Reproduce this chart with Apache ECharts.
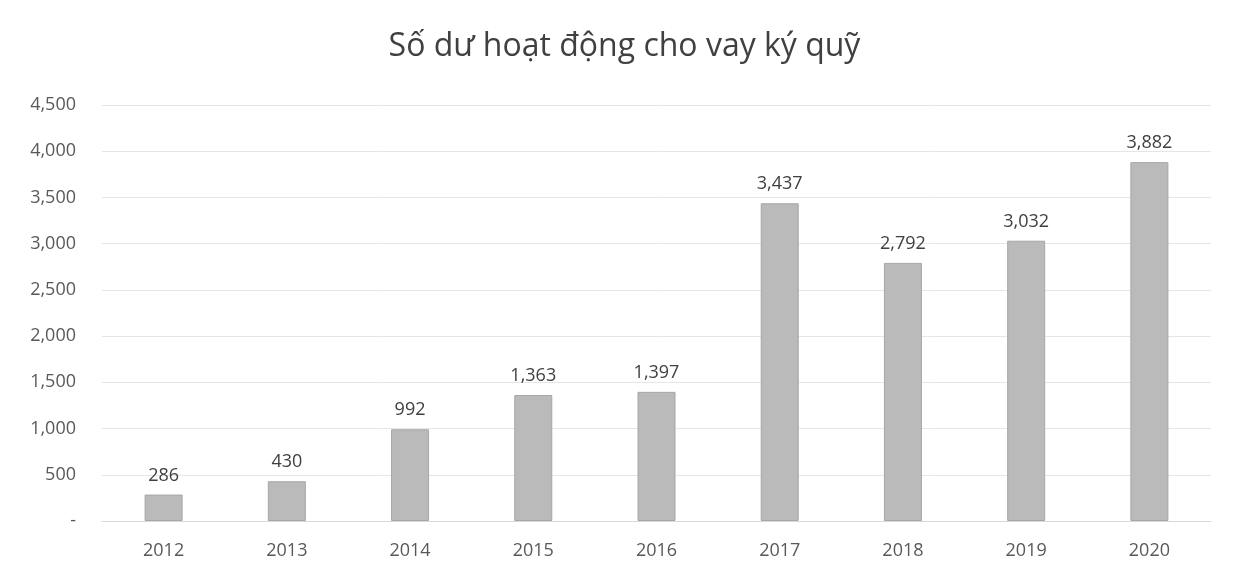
<!DOCTYPE html>
<html>
<head>
<meta charset="utf-8">
<script src="https://cdn.jsdelivr.net/npm/echarts@6/dist/echarts.min.js"></script>
<style>
html,body{margin:0;padding:0;background:#fff;}
#main{width:1249px;height:580px;}
</style>
</head>
<body>
<div id="main"></div>
<script>
var years = ['2012', '2013', '2014', '2015', '2016', '2017', '2018', '2019', '2020'];
var balances = [286, 430, 992, 1363, 1397, 3437, 2792, 3032, 3882];
var yTicks = [0, 500, 1000, 1500, 2000, 2500, 3000, 3500, 4000, 4500];

function fmt(v) {
    if (v === 0) return '-';
    return v.toString().replace(/\B(?=(\d{3})+(?!\d))/g, ',');
}

var chartDom = document.getElementById('main');
var myChart = echarts.init(chartDom);
var option = {
    backgroundColor: '#fff',
    animation: false,
    title: {
        text: 'Số dư hoạt động cho vay ký quỹ',
        left: 'center',
        top: 26,
        textStyle: {
            fontFamily: 'Open Sans',
            fontSize: 32,
            fontWeight: 'normal',
            color: '#404040'
        }
    },
    grid: {
        left: 102,
        right: 38,
        top: 105,
        bottom: 59
    },
    xAxis: {
        type: 'category',
        data: years,
        axisLine: {lineStyle: {color: '#d9d9d9'}},
        axisTick: {show: false},
        axisLabel: {
            margin: 21,
            fontFamily: 'Open Sans',
            fontSize: 18,
            color: '#595959'
        }
    },
    yAxis: {
        type: 'value',
        min: yTicks[0],
        max: yTicks[yTicks.length - 1],
        interval: 500,
        axisLine: {show: false},
        axisTick: {show: false},
        splitLine: {lineStyle: {color: '#e6e6e6'}},
        axisLabel: {
            margin: 26,
            fontFamily: 'Open Sans',
            fontSize: 18,
            color: '#595959',
            formatter: fmt
        }
    },
    series: [
        {
            type: 'bar',
            data: balances,
            barWidth: 38,
            itemStyle: {
                color: '#bababa',
                borderColor: '#a6a6a6',
                borderWidth: 1
            },
            label: {
                show: true,
                position: 'top',
                distance: 10,
                fontFamily: 'Open Sans',
                fontSize: 18,
                color: '#404040',
                formatter: function (p) { return fmt(p.value); }
            }
        }
    ]
};

option && myChart.setOption(option);
</script>
</body>
</html>
